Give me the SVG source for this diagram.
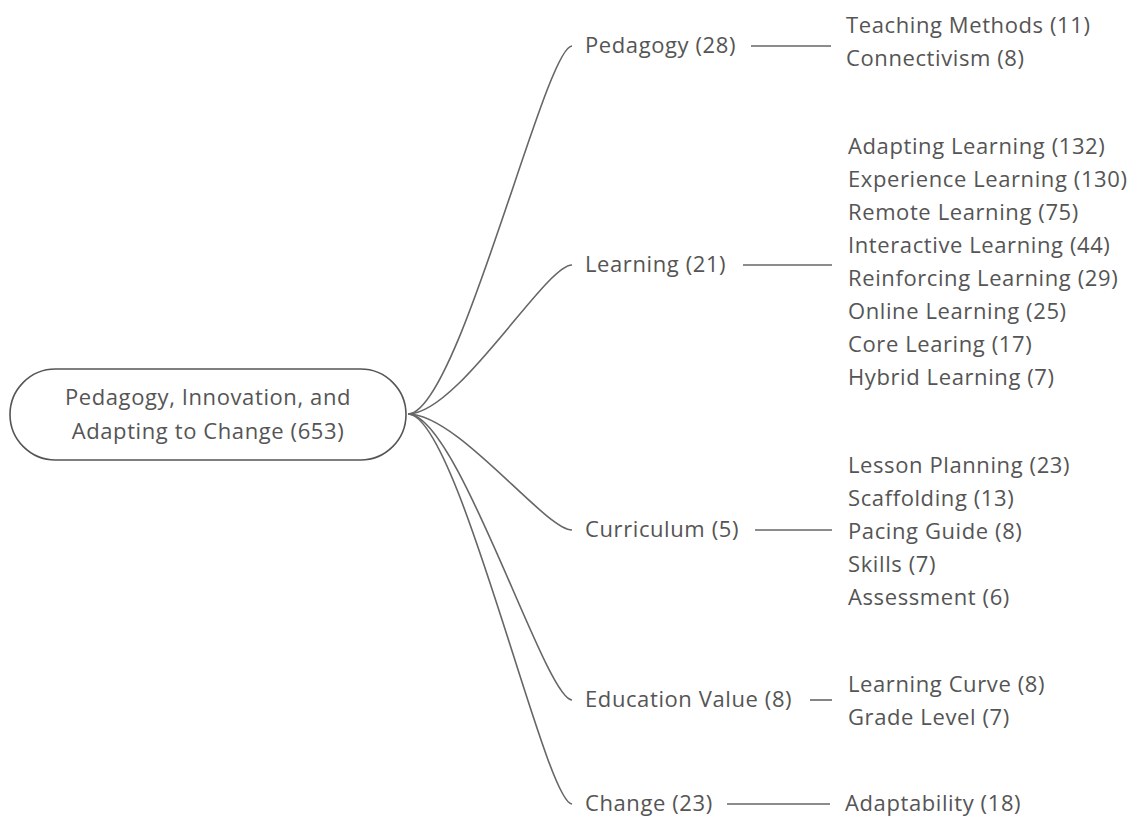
<svg xmlns="http://www.w3.org/2000/svg" width="1131" height="819" viewBox="0 0 1131 819">
  <style>
    text { font-family: "Open Sans", "Noto Sans", "Liberation Sans", sans-serif; font-size: 22px; letter-spacing: 0.6px; fill: #555555; }
    .root { text-anchor: middle; }
    .edge { fill: none; stroke: #666666; stroke-width: 1.6; }
    .pill { fill: #ffffff; stroke: #555555; stroke-width: 1.6; }
  </style>
  <rect width="1131" height="819" fill="#ffffff"/>

  <g id="connectors">
    <!-- root to main topics -->
    <path class="edge" d="M408 414 C458 414 545 46 572 46"/>
    <path class="edge" d="M408 414 C458 414 545 265 572 265"/>
    <path class="edge" d="M408 414 C458 414 545 530 572 530"/>
    <path class="edge" d="M408 414 C458 414 545 700 572 700"/>
    <path class="edge" d="M408 414 C458 414 545 804 572 804"/>
    <!-- topics to subtopic lists -->
    <line class="edge" x1="751" y1="46" x2="831" y2="46"/>
    <line class="edge" x1="743" y1="265" x2="832" y2="265"/>
    <line class="edge" x1="755" y1="530" x2="832" y2="530"/>
    <line class="edge" x1="810" y1="700" x2="832" y2="700"/>
    <line class="edge" x1="727" y1="804" x2="830" y2="804"/>
  </g>

  <g id="root">
    <rect class="pill" x="10" y="369" width="396" height="91" rx="45.5" ry="45.5"/>
    <text class="root" x="208" y="405">Pedagogy, Innovation, and</text>
    <text class="root" x="208" y="439">Adapting to Change (653)</text>
  </g>

  <g id="pedagogy">
    <text x="585" y="53">Pedagogy (28)</text>
  </g>
  <g id="pedagogy-items">
    <text x="846" y="33">Teaching Methods (11)</text>
    <text x="846" y="66">Connectivism (8)</text>
  </g>

  <g id="learning">
    <text x="585" y="272">Learning (21)</text>
  </g>
  <g id="learning-items">
    <text x="848" y="154">Adapting Learning (132)</text>
    <text x="848" y="187">Experience Learning (130)</text>
    <text x="848" y="220">Remote Learning (75)</text>
    <text x="848" y="253">Interactive Learning (44)</text>
    <text x="848" y="286">Reinforcing Learning (29)</text>
    <text x="848" y="319">Online Learning (25)</text>
    <text x="848" y="352">Core Learing (17)</text>
    <text x="848" y="385">Hybrid Learning (7)</text>
  </g>

  <g id="curriculum">
    <text x="585" y="537">Curriculum (5)</text>
  </g>
  <g id="curriculum-items">
    <text x="848" y="473">Lesson Planning (23)</text>
    <text x="848" y="506">Scaffolding (13)</text>
    <text x="848" y="539">Pacing Guide (8)</text>
    <text x="848" y="572">Skills (7)</text>
    <text x="848" y="605">Assessment (6)</text>
  </g>

  <g id="education-value">
    <text x="585" y="707">Education Value (8)</text>
  </g>
  <g id="education-value-items">
    <text x="848" y="692">Learning Curve (8)</text>
    <text x="848" y="725">Grade Level (7)</text>
  </g>

  <g id="change">
    <text x="585" y="811">Change (23)</text>
  </g>
  <g id="change-items">
    <text x="845" y="811">Adaptability (18)</text>
  </g>
</svg>
